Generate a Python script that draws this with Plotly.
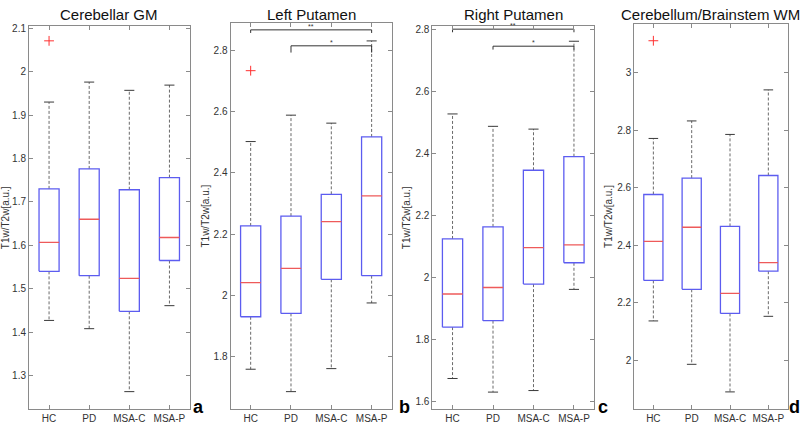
import plotly.graph_objects as go

# ---------------- data ----------------
groups = ["HC", "PD", "MSA-C", "MSA-P"]
titles = ["Cerebellar GM", "Left Putamen", "Right Putamen", "Cerebellum/Brainstem WM"]
panel_letters = ["a", "b", "c", "d"]

# Cerebellar GM
gm_lower = [1.427, 1.408, 1.263, 1.461]
gm_q1 = [1.540, 1.530, 1.448, 1.565]
gm_median = [1.607, 1.660, 1.524, 1.618]
gm_q3 = [1.730, 1.776, 1.728, 1.756]
gm_upper = [1.930, 1.976, 1.957, 1.969]
gm_outliers = [[2.071], [], [], []]

# Left Putamen
lp_lower = [1.760, 1.687, 1.762, 1.976]
lp_q1 = [1.931, 1.942, 2.053, 2.065]
lp_median = [2.042, 2.089, 2.241, 2.325]
lp_q3 = [2.227, 2.259, 2.330, 2.517]
lp_upper = [2.502, 2.588, 2.562, 2.830]
lp_outliers = [[2.733], [], [], []]

# Right Putamen
rp_lower = [1.673, 1.629, 1.634, 1.961]
rp_q1 = [1.839, 1.860, 1.978, 2.047]
rp_median = [1.946, 1.967, 2.096, 2.105]
rp_q3 = [2.124, 2.163, 2.346, 2.390]
rp_upper = [2.528, 2.488, 2.479, 2.763]
rp_outliers = [[], [], [], []]

# Cerebellum/Brainstem WM
wm_lower = [2.137, 1.986, 1.890, 2.153]
wm_q1 = [2.278, 2.247, 2.163, 2.310]
wm_median = [2.414, 2.463, 2.233, 2.340]
wm_q3 = [2.577, 2.634, 2.466, 2.643]
wm_upper = [2.772, 2.833, 2.786, 2.941]
wm_outliers = [[3.112], [], [], []]

# significance comparisons: (group a, group b, label)
lp_sig = [("HC", "MSA-P", "**"), ("PD", "MSA-P", "*")]
rp_sig = [("HC", "MSA-P", "**"), ("PD", "MSA-P", "*")]

y_tick_values = [
    [1.3, 1.4, 1.5, 1.6, 1.7, 1.8, 1.9, 2.0, 2.1],
    [1.8, 2.0, 2.2, 2.4, 2.6, 2.8],
    [1.6, 1.8, 2.0, 2.2, 2.4, 2.6, 2.8],
    [2.0, 2.2, 2.4, 2.6, 2.8, 3.0],
]

panels = [
    dict(lower=gm_lower, q1=gm_q1, med=gm_median, q3=gm_q3, upper=gm_upper, out=gm_outliers, sig=[]),
    dict(lower=lp_lower, q1=lp_q1, med=lp_median, q3=lp_q3, upper=lp_upper, out=lp_outliers, sig=lp_sig),
    dict(lower=rp_lower, q1=rp_q1, med=rp_median, q3=rp_q3, upper=rp_upper, out=rp_outliers, sig=rp_sig),
    dict(lower=wm_lower, q1=wm_q1, med=wm_median, q3=wm_q3, upper=wm_upper, out=wm_outliers, sig=[]),
]

# ---------------- layout (pixels) ----------------
W, H = 800, 424
px_x = [(29.0, 189.5), (230.5, 391.8), (432.3, 594.2), (634.2, 787.5)]
px_top = [23.3, 20.0, 23.3, 20.7]
px_bottom = 410.3
letter_x = [193, 399, 598, 789]
y_ranges = [(1.222, 2.105), (1.629, 2.889), (1.573, 2.812), (1.829, 3.172)]
# bracket layout: (line level, drop length) in data units per comparison
bracket_geom = [[], [(2.866, 0.010), (2.814, 0.022)], [(2.802, 0.010), (2.747, 0.011)], []]

BOX_C = "#5c5cf0"
MED_C = "#ee5a5a"
WH_C = "#6a6a6a"
CAP_C = "#3a3a3a"
AX_C = "#8a8a8a"
FONT = "Liberation Sans, Arial, sans-serif"
half = 0.25
cap_half = 0.125

fig = go.Figure()
annotations = []
layout_axes = {}

for k, p in enumerate(panels):
    suffix = "" if k == 0 else str(k + 1)
    xa, ya = "x" + suffix, "y" + suffix
    pos = list(range(1, len(groups) + 1))

    bx, by, mx, my, wx, wy, cx, cy, ox, oy = [], [], [], [], [], [], [], [], [], []
    for i, g in enumerate(groups):
        c = pos[i]
        bx += [c - half, c + half, c + half, c - half, c - half, None]
        by += [p["q1"][i], p["q1"][i], p["q3"][i], p["q3"][i], p["q1"][i], None]
        mx += [c - half, c + half, None]
        my += [p["med"][i], p["med"][i], None]
        wx += [c, c, None, c, c, None]
        wy += [p["q3"][i], p["upper"][i], None, p["q1"][i], p["lower"][i], None]
        cx += [c - cap_half, c + cap_half, None, c - cap_half, c + cap_half, None]
        cy += [p["upper"][i], p["upper"][i], None, p["lower"][i], p["lower"][i], None]
        for v in p["out"][i]:
            ox.append(c)
            oy.append(v)

    common = dict(xaxis=xa, yaxis=ya, showlegend=False, hoverinfo="skip")
    fig.add_trace(go.Scatter(x=wx, y=wy, mode="lines", line=dict(color=WH_C, width=1, dash="3px,2px"), **common))
    fig.add_trace(go.Scatter(x=cx, y=cy, mode="lines", line=dict(color=CAP_C, width=1), **common))
    fig.add_trace(go.Scatter(x=bx, y=by, mode="lines", line=dict(color=BOX_C, width=1.3), **common))
    fig.add_trace(go.Scatter(x=mx, y=my, mode="lines", line=dict(color=MED_C, width=1.3), **common))
    if ox:
        fig.add_trace(go.Scatter(x=ox, y=oy, mode="markers",
                                 marker=dict(symbol="cross-thin", size=7, line=dict(color="#ff3030", width=1)),
                                 **common))

    # significance brackets
    for (ga, gb, lab), (lev, drop) in zip(p["sig"], bracket_geom[k]):
        a = groups.index(ga) + 1
        b = groups.index(gb) + 1
        fig.add_trace(go.Scatter(x=[a, a, b, b], y=[lev - drop, lev, lev, lev - drop], mode="lines",
                                 line=dict(color="#333333", width=1), **common))
        annotations.append(dict(x=(a + b) / 2, y=lev, xref=xa, yref=ya, text=lab, showarrow=False,
                                yanchor="bottom", yshift=-2, font=dict(size=7, color="#333333", family=FONT)))

    x0, x1 = px_x[k]
    xdom = [x0 / W, x1 / W]
    ydom = [1 - px_bottom / H, 1 - px_top[k] / H]
    xkey = "xaxis" + suffix
    ykey = "yaxis" + suffix
    layout_axes[xkey] = dict(domain=xdom, range=[0.5, len(groups) + 0.5], anchor=ya,
                             tickmode="array", tickvals=pos, ticktext=groups,
                             ticks="inside", ticklen=4, tickcolor=AX_C, showline=True, linecolor=AX_C,
                             linewidth=1, mirror="ticks", showgrid=False, zeroline=False,
                             tickfont=dict(size=10, color="#333333", family=FONT))
    layout_axes[ykey] = dict(domain=ydom, range=list(y_ranges[k]), anchor=xa,
                             tickmode="array", tickvals=y_tick_values[k],
                             ticktext=[("%g" % v) for v in y_tick_values[k]],
                             ticks="inside", ticklen=4, tickcolor=AX_C, showline=True, linecolor=AX_C,
                             linewidth=1, mirror="ticks", showgrid=False, zeroline=False,
                             tickfont=dict(size=10, color="#333333", family=FONT),
                             title=dict(text="T1w/T2w[a.u.]", font=dict(size=10, color="#333333", family=FONT),
                                        standoff=2))

    # title
    annotations.append(dict(x=(x0 + x1) / 2 / W, y=1 - 12 / H, xref="paper", yref="paper",
                            text=titles[k], showarrow=False, xanchor="center", yanchor="middle",
                            font=dict(size=15, color="#111111", family=FONT)))
    # panel letter
    annotations.append(dict(x=letter_x[k] / W, y=1 - 408 / H, xref="paper", yref="paper",
                            text="<b>%s</b>" % panel_letters[k], showarrow=False, xanchor="left",
                            yanchor="middle", xshift=-2, font=dict(size=18, color="#000000", family=FONT)))

fig.update_layout(width=W, height=H, margin=dict(l=0, r=0, t=0, b=0),
                  paper_bgcolor="white", plot_bgcolor="white",
                  annotations=annotations, **layout_axes)

fig.write_html("out.html", config={"displayModeBar": False},
               post_script="document.body.style.margin='0px';document.body.style.padding='0px';")
